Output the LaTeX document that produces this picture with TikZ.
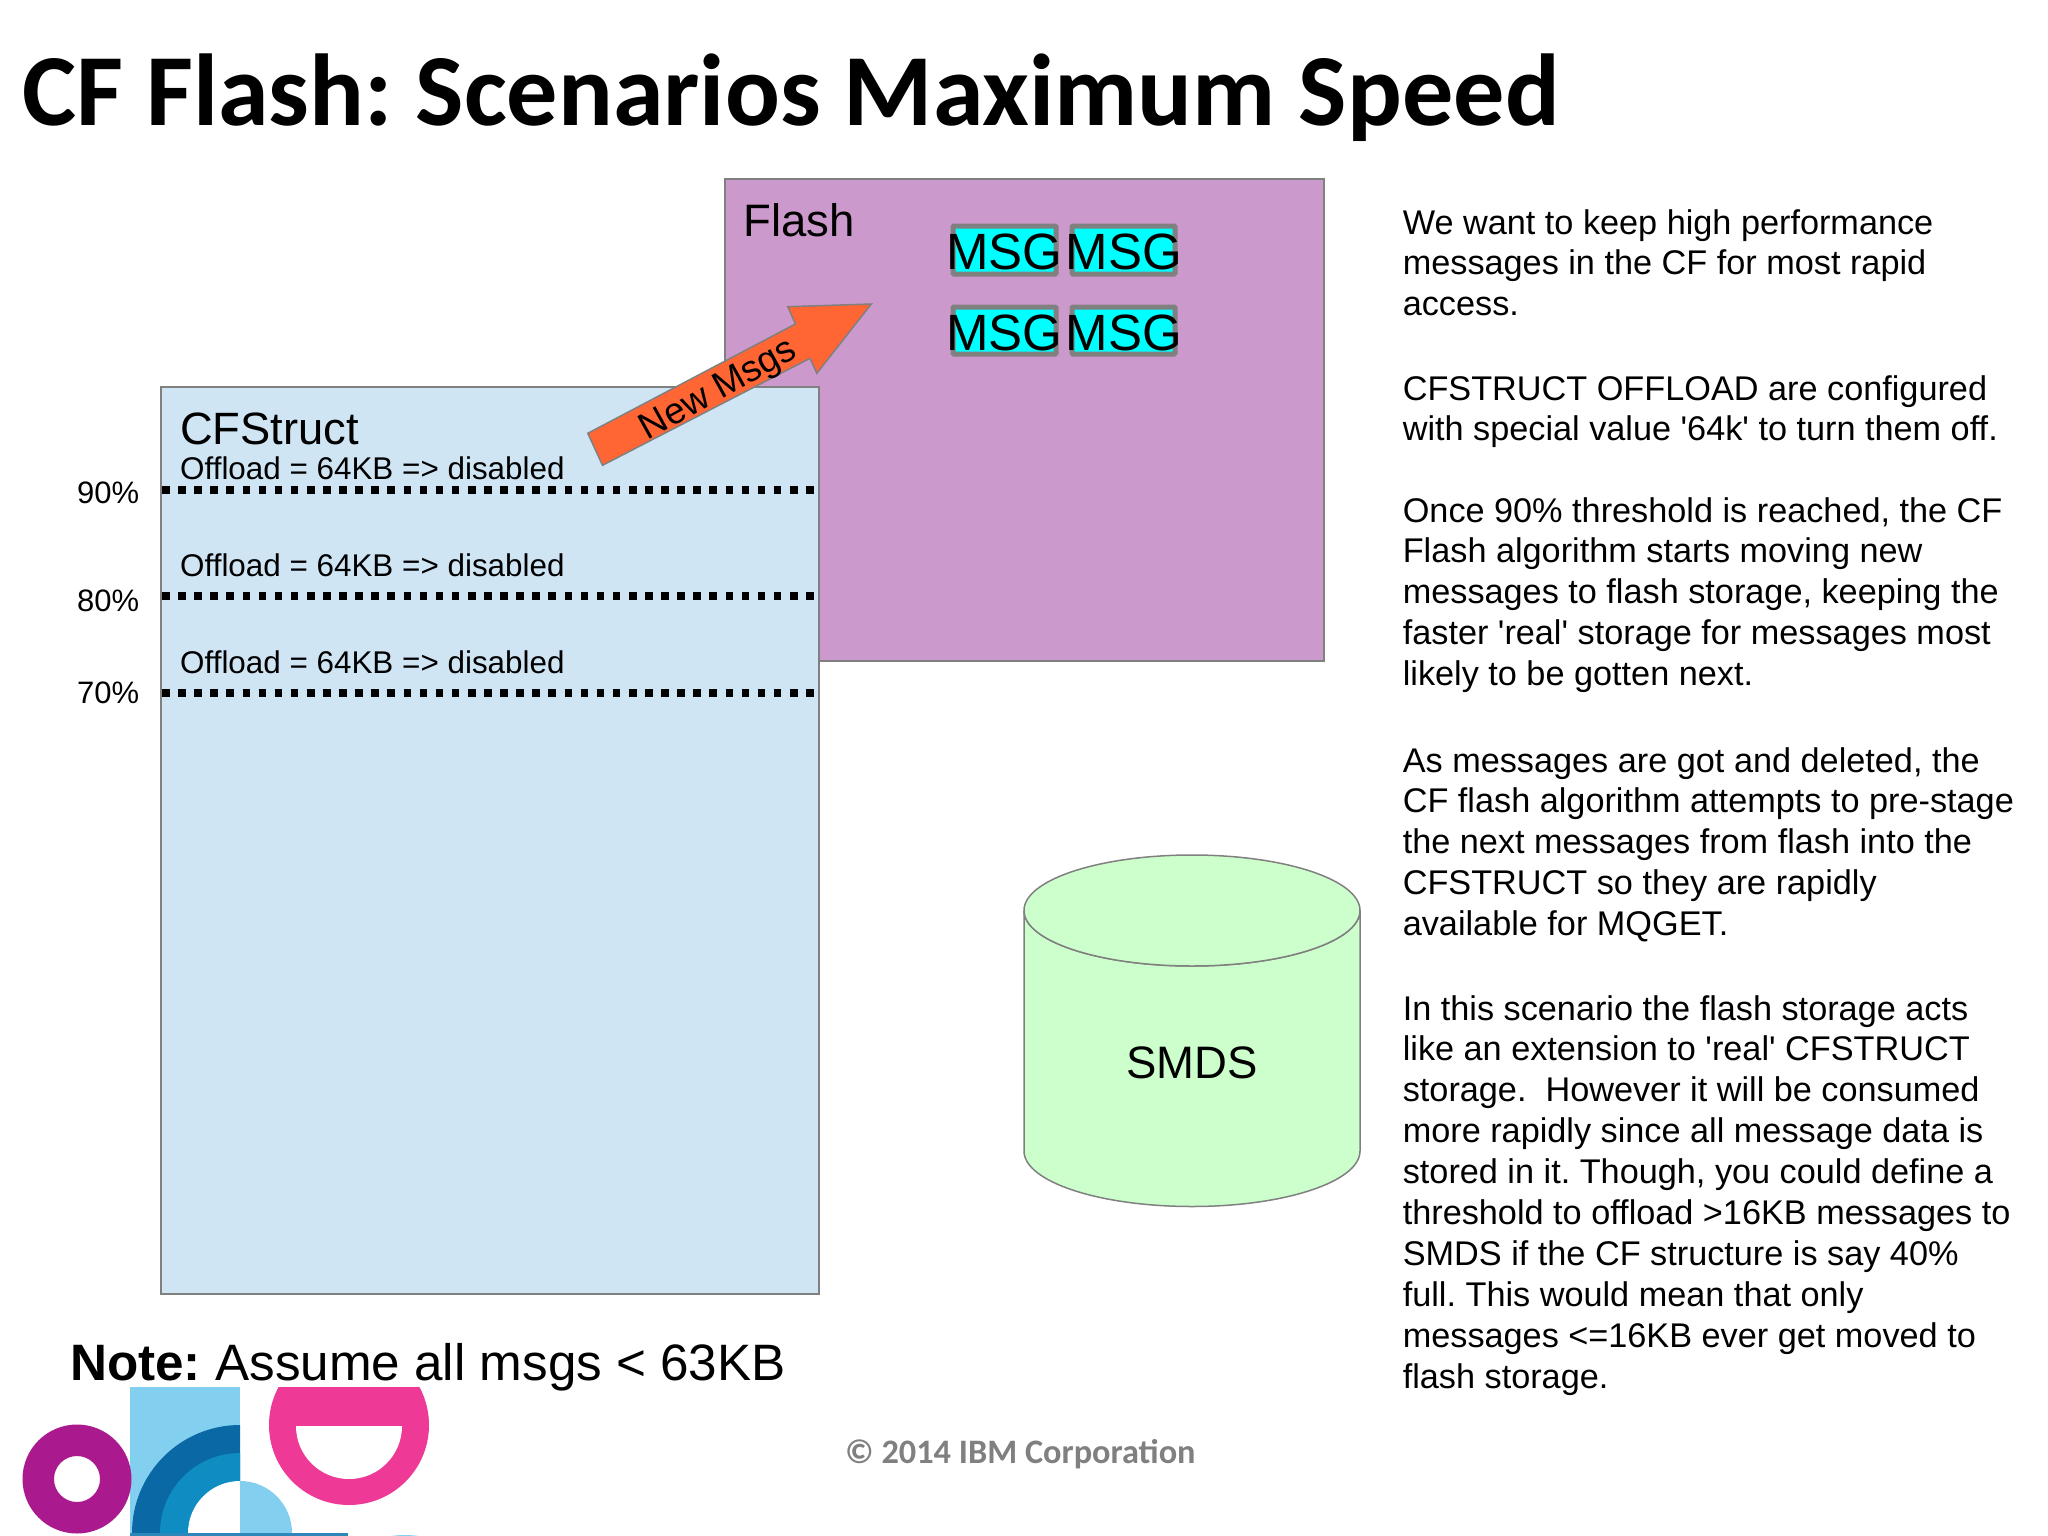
\documentclass[tikz,border=0pt]{standalone}
\usepackage{fontspec}
\setmainfont{Liberation Sans}
\newfontfamily\carlito{Carlito}
\definecolor{edgegrey}{HTML}{808080}
\definecolor{cfblue}{HTML}{CFE5F4}
\definecolor{flashpurple}{HTML}{CC99CC}
\definecolor{msgcyan}{HTML}{00FFFF}
\definecolor{arroworange}{HTML}{FF6633}
\definecolor{smdsgreen}{HTML}{CCFFCC}
\definecolor{logopurple}{HTML}{AA1A8E}
\definecolor{logolight}{HTML}{82CFF0}
\definecolor{logodark}{HTML}{0A68A4}
\definecolor{logomid}{HTML}{0F8CC2}
\definecolor{logopink}{HTML}{EE3A96}
\newcommand{\fsz}[1]{\fontsize{#1}{#1}\selectfont}
\newcommand{\sq}{\textquotesingle}
\tikzset{
  x=1pt,y=-1pt,
  lbl/.style={anchor=base west,inner sep=0pt,text=black},
  container/.style={draw=edgegrey,line width=1.8pt},
  msgbox/.style={draw=edgegrey,fill=msgcyan,line width=5pt,rounded corners=1pt},
  msgtext/.style={anchor=center,inner sep=0pt,font=\fsz{51}},
  level/.style={line width=8pt,dash pattern=on 7.6pt off 8.5pt},
  para/.style={anchor=north west,inner sep=0pt,align=left,font=\fontsize{34.25}{40.9}\selectfont},
  offl/.style={lbl,font=\fsz{31.4}},
  pct/.style={lbl,font=\fsz{31}},
}
\begin{document}
\frenchspacing
\begin{tikzpicture}
\useasboundingbox (0,0) rectangle (2048,1536);
\clip (0,0) rectangle (2048,1536);
\fill[white] (0,0) rectangle (2048,1536);

\node[lbl,font=\carlito\bfseries\fsz{102.2}] (title) at (22,125.5) {CF Flash: Scenarios Maximum Speed};

% Flash
\draw[container,fill=flashpurple] (725,179) rectangle (1324,661);
\node[lbl,font=\fsz{45.5}] (flashlabel) at (743,236) {Flash};
\draw[msgbox] (953,226) rectangle (1056,274);
\draw[msgbox] (1072,226) rectangle (1175,274);
\draw[msgbox] (953,307) rectangle (1056,354);
\draw[msgbox] (1072,307) rectangle (1175,354);
\node[msgtext] (m1) at (1004.5,252) {MSG};
\node[msgtext] (m2) at (1124,252) {MSG};
\node[msgtext] (m3) at (1004.5,333) {MSG};
\node[msgtext] (m4) at (1124,333) {MSG};

% CFStruct
\draw[container,fill=cfblue] (161,387) rectangle (819,1294);
\node[lbl,font=\fsz{45.3}] (cflabel) at (180,444) {CFStruct};
\node[offl] (o90) at (180,479) {Offload = 64KB => disabled};
\node[offl] (o80) at (180,576) {Offload = 64KB => disabled};
\node[offl] (o70) at (180,673) {Offload = 64KB => disabled};
\coordinate (a90) at (162,490); \coordinate (b90) at (815,490);
\coordinate (a80) at (162,596); \coordinate (b80) at (815,596);
\coordinate (a70) at (162,693); \coordinate (b70) at (815,693);
\draw[level] (a90) -- (b90);
\draw[level] (a80) -- (b80);
\draw[level] (a70) -- (b70);
\node[pct] (p90) at (77,503) {90\%};
\node[pct] (p80) at (77,611) {80\%};
\node[pct] (p70) at (77,703) {70\%};

% Arrow
\draw[draw=edgegrey,fill=arroworange,line width=1.5pt,line join=miter]
  (871.3,304) -- (787.8,306.7) -- (795.4,324) -- (587.8,433.3) -- (602.5,465.3)
  -- (810,358.3) -- (816.8,373.3) -- cycle;
\node[anchor=center,inner sep=0pt,rotate=29,font=\fsz{37}] (newmsgs) at (719,391) {New Msgs};

% SMDS
\draw[draw=edgegrey,line width=1.5pt,fill=smdsgreen]
  (1024,910.5) -- (1024,1151) arc[start angle=180,end angle=360,x radius=168,y radius=-55.5]
  -- (1360,910.5) arc[start angle=0,end angle=-180,x radius=168,y radius=-55.5] -- cycle;
\draw[draw=edgegrey,line width=1.5pt,fill=smdsgreen] (1192,910.5) ellipse[x radius=168,y radius=55.5];
\node[anchor=center,inner sep=0pt,font=\fsz{45.5}] (smds) at (1192,1063) {SMDS};

% Right column
\node[para] (t1) at (1402.6,209) {We want to keep high performance\\messages in the CF for most rapid\\access.};
\node[para] (t2) at (1402.6,375) {CFSTRUCT OFFLOAD are configured\\with special value \sq64k\sq{} to turn them off.};
\node[para] (t3) at (1402.6,497) {Once 90\% threshold is reached, the CF\\Flash algorithm starts moving new\\messages to flash storage, keeping the\\faster \sq real\sq{} storage for messages most\\likely to be gotten next.};
\node[para] (t4) at (1402.6,747) {As messages are got and deleted, the\\CF flash algorithm attempts to pre-stage\\the next messages from flash into the\\CFSTRUCT so they are rapidly\\available for MQGET.};
\node[para] (t5) at (1402.6,995) {In this scenario the flash storage acts\\like an extension to \sq real\sq{} CFSTRUCT\\storage.\ \ However it will be consumed\\more rapidly since all message data is\\stored in it. Though, you could define a\\threshold to offload >16KB messages to\\SMDS if the CF structure is say 40\%\\full. This would mean that only\\messages <=16KB ever get moved to\\flash storage.};

% Logo
\fill[logopink] (349,1425) circle[radius=80];
\fill[white] (0,1300) rectangle (500,1386.7);
\begin{scope}
  \clip (280,1426) rectangle (420,1490);
  \fill[white] (349,1426) circle[radius=53];
\end{scope}
\fill[logolight] (130,1386.7) rectangle (240,1536);
\begin{scope}
  \clip (130,1386.7) rectangle (240,1533);
  \fill[logodark] (240,1533) circle[radius=108];
  \fill[logomid] (240,1533) circle[radius=80];
  \fill[white] (240,1533) circle[radius=52];
\end{scope}
\begin{scope}
  \clip (240,1386.7) rectangle (300,1533);
  \fill[logolight] (240,1533) circle[radius=52];
\end{scope}
\fill[logopurple,even odd rule] (77,1479) circle[radius=54.5] (77,1479) circle[radius=23];
\fill[logodark!70!logolight] (130,1533) rectangle (348,1536);
\fill[logolight] (405,1540) ellipse[x radius=22,y radius=5];

\node[lbl,font=\fsz{51.2}] (note) at (70,1380) {\textbf{Note:} Assume all msgs < 63KB};
\node[lbl,font=\carlito\bfseries\fsz{34.3},text=edgegrey] (copy) at (845,1463) {© 2014 IBM Corporation};
\end{tikzpicture}
\end{document}
